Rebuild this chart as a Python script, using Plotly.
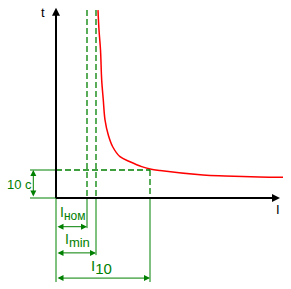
import plotly.graph_objects as go

# ---- data (I in units, t in seconds) ----
curve_I = [4.2, 4.3, 4.45, 4.57, 4.73, 4.9, 5.23, 5.67, 6.4, 7.4, 8.57, 9.4, 10.4, 14.7, 16.9, 20.3, 22.7]
curve_t = [67.1, 60.0, 52.9, 42.1, 35.0, 27.9, 22.5, 18.3, 14.75, 12.96, 11.2, 10.36, 9.8, 8.2, 7.86, 7.5, 7.4]
I_nom = 3.1
I_min = 4.0
I_10 = 9.4
t_10 = 10.0
labels = {"t": "t", "I": "I", "t10": "10 c",
          "nom": "I<sub><span style='font-size:12px'>ном</span></sub>",
          "min": "I<sub><span style='font-size:13px'>min</span></sub>",
          "i10": "I<sub><span style='font-size:15px'>10</span></sub>"}

t_top = 67.1
x_end = 22.2
dim_x = -2.27
dim_left = -2.6
lev_nom, lev_min, lev_10 = -10.25, -19.6, -28.6

GREEN = "#008000"
fig = go.Figure()
fig.add_trace(go.Scatter(x=curve_I, y=curve_t, mode="lines", line=dict(color="#ff0000", width=1.5, shape="spline"), hoverinfo="skip"))

shapes = []
def line(x0, y0, x1, y1, color=GREEN, width=1, dash="solid"):
    shapes.append(dict(type="line", x0=x0, y0=y0, x1=x1, y1=y1, line=dict(color=color, width=width, dash=dash)))

D = "6px,3px"
# dashed guides
line(I_nom, t_top, I_nom, 0, dash=D, width=1.3)
line(I_min, t_top, I_min, 0, dash=D, width=1.3)
line(0, t_10, I_10, t_10, dash=D, width=1.3)
line(I_10, t_10, I_10, 0, dash=D, width=1.3)
# solid extensions
line(I_nom, 0, I_nom, lev_nom - 0.5)
line(I_min, 0, I_min, lev_min - 0.8)
line(I_10, 0, I_10, lev_10 - 1.4)
line(0, 0, 0, lev_10 - 1.4)
line(dim_left, t_10, 0, t_10)
line(dim_left, 0, 0, 0)
# axes
line(0, 0, 0, t_top, color="black", width=2)
line(0, 0, x_end, 0, color="black", width=2)
fig.update_layout(shapes=shapes)

ann = []
def arrow(x, y, ax, ay, color, both=False, width=1):
    ann.append(dict(x=x, y=y, ax=ax, ay=ay, xref="x", yref="y", axref="x", ayref="y", text="",
                    showarrow=True, arrowhead=2, arrowsize=1.2 if width == 1 else 0.8, arrowwidth=width,
                    arrowcolor=color, arrowside="end+start" if both else "end", startarrowhead=2,
                    startarrowsize=1.2))
arrow(0, t_top + 0.8, 0, t_top - 3, "black", width=2)
arrow(x_end + 0.2, 0, x_end - 1, 0, "black", width=2)
arrow(dim_x, t_10, dim_x, 0, GREEN, both=True)
arrow(I_nom, lev_nom, 0, lev_nom, GREEN, both=True)
arrow(I_min, lev_min, 0, lev_min, GREEN, both=True)
arrow(I_10, lev_10, 0, lev_10, GREEN, both=True)

def text(x, y, s, color, size=12):
    ann.append(dict(x=x, y=y, xref="x", yref="y", text=s, showarrow=False,
                    font=dict(color=color, size=size, family="Liberation Sans")))
text(-1.3, t_top - 0.8, labels["t"], "black", 13)
text(x_end, -4.0, labels["I"], "black", 13)
text(-3.7, t_10 / 2, labels["t10"], GREEN, 13)
text(I_nom / 2 + 0.1, -5.6, labels["nom"], GREEN, 14)
text(I_min / 2 + 0.1, -15.2, labels["min"], GREEN, 14)
text(I_10 / 2 - 0.2, -24.7, labels["i10"], GREEN, 15)
fig.update_layout(annotations=ann)

fig.update_layout(width=291, height=289, margin=dict(l=0, r=0, t=0, b=0),
                  paper_bgcolor="white", plot_bgcolor="white", showlegend=False,
                  xaxis=dict(range=[-5.6, 23.5], visible=False, fixedrange=True),
                  yaxis=dict(range=[-32.5, 70.71], visible=False, fixedrange=True))
fig.write_html("out.html", config={"displayModeBar": False})
